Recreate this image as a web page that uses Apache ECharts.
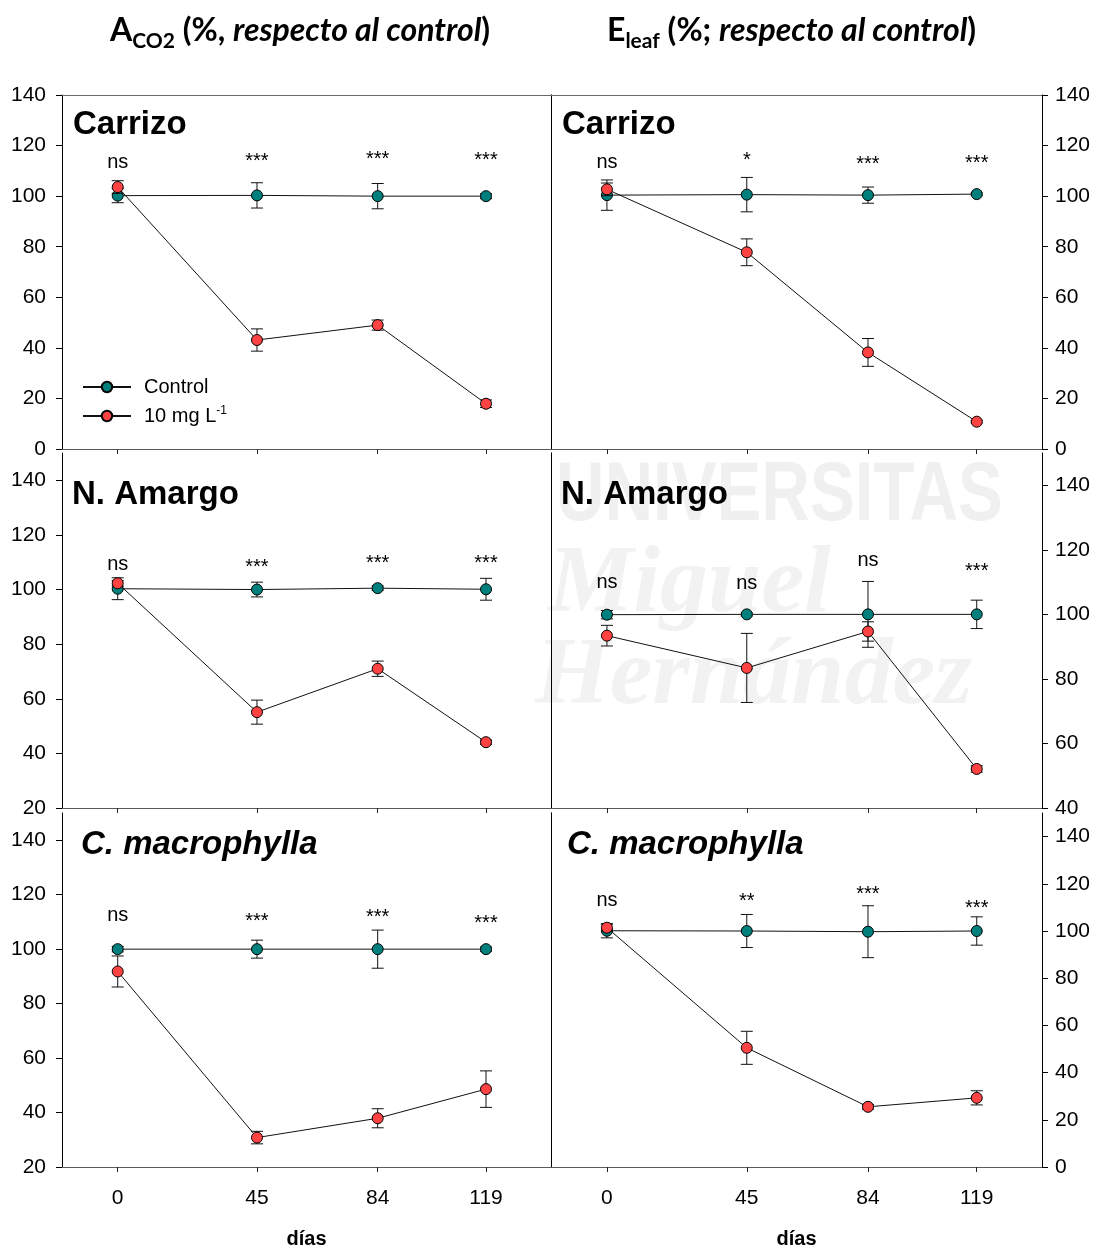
<!DOCTYPE html>
<html><head><meta charset="utf-8">
<script src="https://cdn.jsdelivr.net/npm/echarts@6/dist/echarts.min.js"></script>
<style>html,body{margin:0;padding:0;background:#fff}#c{width:1097px;height:1250px}</style>
</head><body><div id="c"></div>
<script>
// ---------- data ----------
const days = [0, 45, 84, 119];
const xTickLabels = [0, 45, 84, 119];
const yTicks0 = [0, 20, 40, 60, 80, 100, 120, 140];
const yTicks20 = [20, 40, 60, 80, 100, 120, 140];
const yTicks40 = [40, 60, 80, 100, 120, 140];

// A_CO2 – Carrizo
const aCarrizoCtrl = [100.2, 100.3, 100.0, 100.0];
const aCarrizoCtrlErr = [2.8, 5.0, 5.0, 1.0];
const aCarrizoTrt = [103.6, 43.1, 49.0, 17.9];
const aCarrizoTrtErr = [2.5, 4.4, 2.0, 1.5];
const aCarrizoSig = ['ns', '***', '***', '***'];
const aCarrizoSigY = [113.9, 115.5, 116.6, 115.9];

// E_leaf – Carrizo
const eCarrizoCtrl = [100.4, 100.6, 100.4, 100.8];
const eCarrizoCtrlErr = [6.0, 6.8, 3.2, 0.5];
const eCarrizoTrt = [102.7, 77.8, 38.2, 10.8];
const eCarrizoTrtErr = [2.5, 5.3, 5.5, 0.5];
const eCarrizoSig = ['ns', '*', '***', '***'];
const eCarrizoSigY = [113.6, 115.9, 114.5, 114.9];

// A_CO2 – N. Amargo
const aAmargoCtrl = [100.3, 100.0, 100.5, 100.1];
const aAmargoCtrlErr = [4.0, 2.7, 0.8, 4.0];
const aAmargoTrt = [102.3, 55.1, 71.0, 44.1];
const aAmargoTrtErr = [1.0, 4.4, 2.8, 0.8];
const aAmargoSig = ['ns', '***', '***', '***'];
const aAmargoSigY = [109.5, 109.8, 111.3, 111.4];

// E_leaf – N. Amargo
const eAmargoCtrl = [99.9, 100.0, 100.0, 100.0];
const eAmargoCtrlErr = [1.3, 0.5, 10.2, 4.4];
const eAmargoTrt = [93.4, 83.4, 94.7, 52.1];
const eAmargoTrtErr = [3.2, 10.7, 3.0, 1.0];
const eAmargoSig = ['ns', 'ns', 'ns', '***'];
const eAmargoSigY = [110.2, 109.9, 117.0, 114.8];

// A_CO2 – C. macrophylla
const aMacroCtrl = [100.0, 100.0, 100.0, 100.0];
const aMacroCtrlErr = [1.0, 3.3, 7.0, 0.8];
const aMacroTrt = [91.8, 30.8, 37.9, 48.6];
const aMacroTrtErr = [5.7, 2.3, 3.5, 6.7];
const aMacroSig = ['ns', '***', '***', '***'];
const aMacroSigY = [112.7, 112.0, 113.5, 111.3];

// E_leaf – C. macrophylla
const eMacroCtrl = [100.1, 100.0, 99.7, 100.0];
const eMacroCtrlErr = [3.0, 7.0, 11.0, 6.0];
const eMacroTrt = [101.4, 50.5, 25.5, 29.3];
const eMacroTrtErr = [1.5, 7.0, 1.0, 3.0];
const eMacroSig = ['ns', '**', '***', '***'];
const eMacroSigY = [113.3, 114.6, 117.5, 111.6];

const seriesNames = ['Control', '10 mg L-1'];
const panelTitles = ['Carrizo', 'Carrizo', 'N. Amargo', 'N. Amargo', 'C. macrophylla', 'C. macrophylla'];
const xName = 'días';

// ---------- layout / style ----------
const FONT = '"Liberation Sans", Arial, sans-serif';
const TEAL = '#00807d';
const RED = '#ff4242';

const panels = [
  {ctrl: aCarrizoCtrl, ce: aCarrizoCtrlErr, trt: aCarrizoTrt, te: aCarrizoTrtErr, sig: aCarrizoSig, sy: aCarrizoSigY, min: 0, max: 140, ticks: yTicks0},
  {ctrl: eCarrizoCtrl, ce: eCarrizoCtrlErr, trt: eCarrizoTrt, te: eCarrizoTrtErr, sig: eCarrizoSig, sy: eCarrizoSigY, min: 0, max: 140, ticks: yTicks0},
  {ctrl: aAmargoCtrl, ce: aAmargoCtrlErr, trt: aAmargoTrt, te: aAmargoTrtErr, sig: aAmargoSig, sy: aAmargoSigY, min: 20, max: 150, ticks: yTicks20},
  {ctrl: eAmargoCtrl, ce: eAmargoCtrlErr, trt: eAmargoTrt, te: eAmargoTrtErr, sig: eAmargoSig, sy: eAmargoSigY, min: 40, max: 150, ticks: yTicks40},
  {ctrl: aMacroCtrl, ce: aMacroCtrlErr, trt: aMacroTrt, te: aMacroTrtErr, sig: aMacroSig, sy: aMacroSigY, min: 20, max: 150, ticks: yTicks20},
  {ctrl: eMacroCtrl, ce: eMacroCtrlErr, trt: eMacroTrt, te: eMacroTrtErr, sig: eMacroSig, sy: eMacroSigY, min: 0, max: 150, ticks: yTicks0}
];
const boxes = [
  [62, 95, 489, 354], [551, 95, 491, 354],
  [62, 453, 489, 355], [551, 453, 491, 355],
  [62, 813, 489, 354], [551, 813, 491, 354]
];
const titlePos = [[73, 108], [562, 108], [72, 478], [561, 478], [81, 828], [567, 828]];

function errRender(params, api) {
  const x = api.value(0), y = api.value(1), e = api.value(2);
  const hi = api.coord([x, y + e]);
  const lo = api.coord([x, y - e]);
  const h = 6;
  const st = {stroke: '#111', lineWidth: 1};
  return {type: 'group', children: [
    {type: 'line', shape: {x1: hi[0], y1: hi[1], x2: lo[0], y2: lo[1]}, style: st},
    {type: 'line', shape: {x1: hi[0] - h, y1: hi[1], x2: hi[0] + h, y2: hi[1]}, style: st},
    {type: 'line', shape: {x1: lo[0] - h, y1: lo[1], x2: lo[0] + h, y2: lo[1]}, style: st}
  ]};
}

const grid = [], xAxis = [], yAxis = [], series = [], title = [];
panels.forEach((p, i) => {
  const b = boxes[i];
  const row = Math.floor(i / 2);
  const left = i % 2 === 0;
  grid.push({left: b[0], top: b[1], width: b[2], height: b[3], show: false});
  const xi = xAxis.length;
  xAxis.push({
    type: 'value', gridIndex: i, min: -18, max: 140, position: 'bottom',
    axisLine: {show: true, onZero: false, lineStyle: {color: '#5a5a5a', width: 1}},
    axisTick: {show: true, customValues: xTickLabels, length: 5, inside: false, lineStyle: {color: '#222'}},
    axisLabel: {show: row === 2, customValues: xTickLabels, fontSize: 21, color: '#000', margin: 21, fontFamily: FONT},
    splitLine: {show: false},
    name: row === 2 ? xName : '', nameLocation: 'middle', nameGap: 62,
    nameTextStyle: {fontSize: 20, fontWeight: 'bold', color: '#000', fontFamily: FONT}
  });
  if (row === 0) {
    xAxis.push({type: 'value', gridIndex: i, min: -18, max: 140, position: 'top',
      axisLine: {show: true, onZero: false, lineStyle: {color: '#6a6a6a'}},
      axisTick: {show: false}, axisLabel: {show: false}, splitLine: {show: false}});
  }
  const yi = yAxis.length;
  yAxis.push({
    type: 'value', gridIndex: i, min: p.min, max: p.max, position: left ? 'left' : 'right',
    axisLine: {show: true, onZero: false, lineStyle: {color: '#000'}},
    axisTick: {show: true, customValues: p.ticks, length: 6, inside: false, lineStyle: {color: '#000'}},
    axisLabel: {customValues: p.ticks, fontSize: 21, color: '#000', margin: left ? 16 : 13, fontFamily: FONT},
    splitLine: {show: false}
  });
  yAxis.push({
    type: 'value', gridIndex: i, min: p.min, max: p.max, position: left ? 'right' : 'left',
    axisLine: {show: true, onZero: false, lineStyle: {color: '#000'}},
    axisTick: {show: false}, axisLabel: {show: false}, splitLine: {show: false}
  });
  const common = {xAxisIndex: xi, yAxisIndex: yi, animation: false};
  series.push(Object.assign({type: 'custom', renderItem: errRender, encode: {x: 0, y: 1}, z: 2, silent: true,
    data: days.map((d, k) => [d, p.ctrl[k], p.ce[k]])}, common));
  series.push(Object.assign({type: 'line', name: seriesNames[0], z: 3, symbol: 'circle', symbolSize: 11,
    itemStyle: {color: TEAL, borderColor: '#000', borderWidth: 1}, lineStyle: {color: '#111', width: 1},
    data: days.map((d, k) => [d, p.ctrl[k]])}, common));
  series.push(Object.assign({type: 'custom', renderItem: errRender, encode: {x: 0, y: 1}, z: 4, silent: true,
    data: days.map((d, k) => [d, p.trt[k], p.te[k]])}, common));
  series.push(Object.assign({type: 'line', name: seriesNames[1], z: 5, symbol: 'circle', symbolSize: 11,
    itemStyle: {color: RED, borderColor: '#000', borderWidth: 1}, lineStyle: {color: '#111', width: 1},
    data: days.map((d, k) => [d, p.trt[k]])}, common));
  series.push(Object.assign({type: 'scatter', z: 6, silent: true, symbolSize: 1,
    itemStyle: {color: 'rgba(0,0,0,0)', opacity: 1},
    data: days.map((d, k) => ({value: [d, p.sy[k]],
      label: {offset: [0, p.sig[k].indexOf('*') >= 0 ? 5 : 1]}})),
    label: {show: true, position: 'inside', fontSize: 20, color: '#000', opacity: 1, fontFamily: FONT,
      formatter: (q) => p.sig[q.dataIndex]}}, common));
  title.push({text: panelTitles[i], left: titlePos[i][0], top: titlePos[i][1], padding: 0,
    textStyle: {fontSize: 33, fontWeight: 'bold', fontStyle: row === 2 ? 'italic' : 'normal', color: '#000', fontFamily: FONT, lineHeight: 34}});
});

const HEAD = 'Lato, "Open Sans", sans-serif';
const headRich = {
  b: {fontSize: 32, fontWeight: 'bold', fontFamily: HEAD, color: '#000', lineHeight: 42},
  i: {fontSize: 32, fontWeight: 'bold', fontStyle: 'italic', fontFamily: HEAD, color: '#000', lineHeight: 42},
  s: {fontSize: 21, fontWeight: 'bold', fontFamily: HEAD, color: '#000', lineHeight: 42, verticalAlign: 'bottom'}
};
title.push({text: '{b|A}{s|CO2}{b| (%, }{i|respecto al control}{b|)}', left: 110, top: 10, padding: 0, textStyle: {rich: headRich}});
title.push({text: '{b|E}{s|leaf}{b| (%; }{i|respecto al control}{b|)}', left: 607, top: 10, padding: 0, textStyle: {rich: headRich}});

const chart = echarts.init(document.getElementById('c'), null, {renderer: 'canvas'});
chart.setOption({
  backgroundColor: '#fff',
  animation: false,
  title: title,
  grid: grid, xAxis: xAxis, yAxis: yAxis, series: series,
  legend: {
    show: true, orient: 'vertical', left: 82, top: 377, padding: 0, itemWidth: 48, itemHeight: 13, itemGap: 8,
    data: seriesNames, selectedMode: false,
    formatter: (n) => n === seriesNames[1] ? '{n|10 mg L}{s|-1}' : '{n|' + n + '}',
    textStyle: {fontSize: 20, color: '#000', fontFamily: FONT, padding: [0, 0, 0, 8],
      rich: {n: {fontSize: 20, fontFamily: FONT, color: '#000'}, s: {fontSize: 12, fontFamily: FONT, color: '#000', verticalAlign: 'top', padding: [0, 0, 10, 0]}}}
  },
  graphic: [
    {type: 'text', x: 556, y: 455, scaleX: 0.8, z: -10, silent: true,
      style: {text: 'UNIVERSITAS', font: 'bold 84px "Liberation Sans"', fill: '#f0f0f0'}},
    {type: 'text', x: 548, y: 538, z: -10, silent: true,
      style: {text: 'Miguel', font: 'italic bold 96px "Liberation Serif"', fill: '#f2f2f2'}},
    {type: 'text', x: 535, y: 630, z: -10, silent: true,
      style: {text: 'Hernández', font: 'italic bold 96px "Liberation Serif"', fill: '#f2f2f2'}}
  ]
});
</script></body></html>
